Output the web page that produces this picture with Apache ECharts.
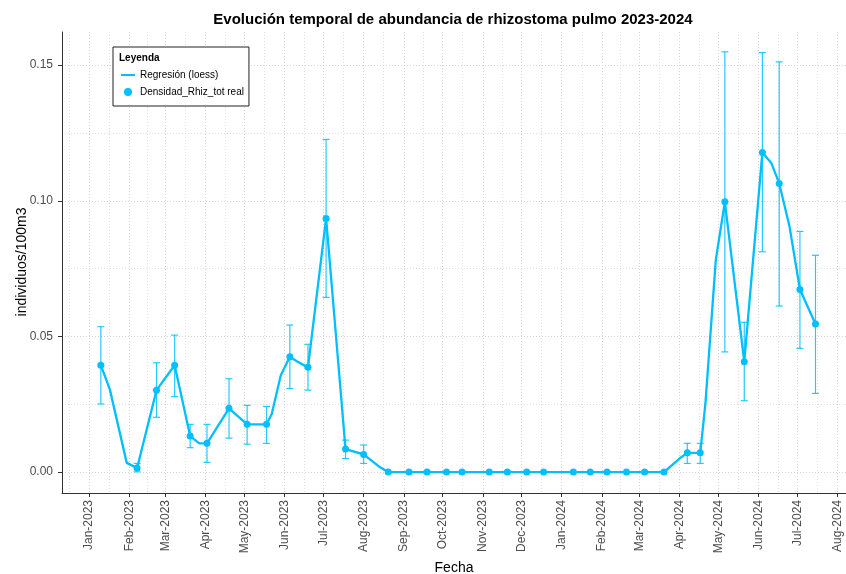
<!DOCTYPE html>
<html>
<head>
<meta charset="utf-8">
<title>Evolución temporal de abundancia de rhizostoma pulmo 2023-2024</title>
<script src="https://cdn.jsdelivr.net/npm/echarts@6/dist/echarts.min.js"></script>
<style>
  html, body { margin: 0; padding: 0; background: #ffffff; }
  #chart { width: 846px; height: 574px; }
</style>
</head>
<body>
<div id="chart"></div>
<script>
// Sampling dates and measured density (individuos/100m3)
const sampleDates = [
  '2023-01-10', '2023-02-07', '2023-02-22', '2023-03-08', '2023-03-20', '2023-04-02',
  '2023-04-19', '2023-05-03', '2023-05-18', '2023-06-05', '2023-06-19', '2023-07-03',
  '2023-07-18', '2023-08-01', '2023-08-20', '2023-09-05', '2023-09-19', '2023-10-04',
  '2023-10-16', '2023-11-06', '2023-11-20', '2023-12-05', '2023-12-18', '2024-01-10',
  '2024-01-23', '2024-02-05', '2024-02-20', '2024-03-05', '2024-03-20', '2024-04-07',
  '2024-04-17', '2024-05-06', '2024-05-21', '2024-06-04', '2024-06-17', '2024-07-03',
  '2024-07-15'
];
const densidad = [
  0.0394, 0.0015, 0.0302, 0.0394, 0.0133, 0.0106,
  0.0235, 0.0176, 0.0176, 0.0425, 0.0386, 0.0935,
  0.0085, 0.0065, 0, 0, 0, 0,
  0, 0, 0, 0, 0, 0,
  0, 0, 0, 0, 0, 0.0071,
  0.0071, 0.0996, 0.0407, 0.1178, 0.1064, 0.0673,
  0.0546
];
// Error bar limits (null where no spread was recorded)
const errLow = [
  0.0251, 0.0001, 0.0202, 0.0278, 0.0090, 0.0036,
  0.0125, 0.0103, 0.0106, 0.0308, 0.0302, 0.0644,
  0.0050, 0.0032, null, null, null, null,
  null, null, null, null, null, null,
  null, null, null, null, null, 0.0032,
  0.0032, 0.0443, 0.0263, 0.0812, 0.0612, 0.0456,
  0.0290
];
const errHigh = [
  0.0536, 0.0032, 0.0403, 0.0505, 0.0176, 0.0176,
  0.0344, 0.0246, 0.0242, 0.0542, 0.0471, 0.1226,
  0.0118, 0.0100, null, null, null, null,
  null, null, null, null, null, null,
  null, null, null, null, null, 0.0106,
  0.0106, 0.1549, 0.0552, 0.1546, 0.1512, 0.0887,
  0.0799
];

// Fitted loess curve
const loessDates = [
  '2023-01-10', '2023-01-17', '2023-01-30', '2023-02-07', '2023-02-22', '2023-03-08',
  '2023-03-20', '2023-03-27', '2023-04-02', '2023-04-19', '2023-05-03', '2023-05-18',
  '2023-05-22', '2023-05-29', '2023-06-05', '2023-06-11', '2023-06-19', '2023-07-03',
  '2023-07-18', '2023-08-01', '2023-08-13', '2023-08-20', '2023-09-05', '2023-09-19',
  '2023-10-04', '2023-10-16', '2023-11-06', '2023-11-20', '2023-12-05', '2023-12-18',
  '2024-01-10', '2024-01-23', '2024-02-05', '2024-02-20', '2024-03-05', '2024-03-20',
  '2024-04-01', '2024-04-07', '2024-04-17', '2024-04-21', '2024-04-29', '2024-05-06',
  '2024-05-21', '2024-06-04', '2024-06-11', '2024-06-17', '2024-06-25', '2024-07-03',
  '2024-07-15'
];
const loessValues = [
  0.0394, 0.0304, 0.0034, 0.0015, 0.0302, 0.0394,
  0.0133, 0.0106, 0.0106, 0.0235, 0.0176, 0.0176,
  0.0214, 0.0357, 0.0425, 0.0407, 0.0386, 0.0935,
  0.0085, 0.0065, 0.0020, 0, 0, 0,
  0, 0, 0, 0, 0, 0,
  0, 0, 0, 0, 0, 0,
  0.0050, 0.0071, 0.0071, 0.0253, 0.0781, 0.0996,
  0.0407, 0.1178, 0.1138, 0.1064, 0.0904, 0.0673,
  0.0546
];

// Axis breaks
const monthBreaks = [
  '2023-01-01', '2023-02-01', '2023-03-01', '2023-04-01', '2023-05-01', '2023-06-01',
  '2023-07-01', '2023-08-01', '2023-09-01', '2023-10-01', '2023-11-01', '2023-12-01',
  '2024-01-01', '2024-02-01', '2024-03-01', '2024-04-01', '2024-05-01', '2024-06-01',
  '2024-07-01', '2024-08-01'
];
const monthLabels = [
  'Jan-2023', 'Feb-2023', 'Mar-2023', 'Apr-2023', 'May-2023', 'Jun-2023',
  'Jul-2023', 'Aug-2023', 'Sep-2023', 'Oct-2023', 'Nov-2023', 'Dec-2023',
  'Jan-2024', 'Feb-2024', 'Mar-2024', 'Apr-2024', 'May-2024', 'Jun-2024',
  'Jul-2024', 'Aug-2024'
];
const yBreaks = [0, 0.05, 0.10, 0.15];
const yMinorBreaks = [0.025, 0.075, 0.125];

// dates are handled as millisecond timestamps on a linear axis
function ts(s) {
  const p = s.split('-').map(Number);
  return Date.UTC(p[0], p[1] - 1, p[2]);
}

const xMin = ts('2022-12-11');
const xMax = ts('2024-08-07') + 14 * 3600000;
const yMin = -0.0077;
const yMax = 0.1622;

const majorX = monthBreaks.map(ts);
const labelByTime = {};
majorX.forEach(function (t, i) { labelByTime[t] = monthLabels[i]; });
// minor vertical grid lines halfway between month breaks
const extended = [ts('2022-12-01')].concat(majorX, [ts('2024-09-01')]);
const minorX = [];
for (let i = 0; i < extended.length - 1; i++) {
  const m = (extended[i] + extended[i + 1]) / 2;
  if (m > xMin && m < xMax) minorX.push(m);
}

const COLOR = '#00BFFF';
const FONT = 'Liberation Sans, Arial, Helvetica, sans-serif';

const pointData = sampleDates.map(function (d, i) { return [ts(d), densidad[i]]; });
const loessData = loessDates.map(function (d, i) { return [ts(d), loessValues[i]]; });
const errData = [];
sampleDates.forEach(function (d, i) {
  if (errLow[i] !== null && errHigh[i] !== null) errData.push([ts(d), errLow[i], errHigh[i]]);
});

const gridLine = { show: true, lineStyle: { color: '#d4d4d4', type: [1, 2], width: 1 } };
const minorGridLine = { show: true, lineStyle: { color: '#e0e0e0', type: [1, 2], width: 1 } };

const chart = echarts.init(document.getElementById('chart'), null, { renderer: 'canvas' });
chart.setOption({
  animation: false,
  backgroundColor: '#ffffff',
  title: {
    text: 'Evolución temporal de abundancia de rhizostoma pulmo 2023-2024',
    left: 448,
    textAlign: 'center',
    top: 7,
    textStyle: { fontFamily: FONT, fontSize: 15, fontWeight: 'bold', color: '#000000' }
  },
  grid: { left: 62, right: 0, top: 32, bottom: 81, containLabel: false, outerBoundsMode: 'none' },
  legend: {
    orient: 'vertical',
    left: 113,
    top: 47,
    padding: [23, 5, 9, 8],
    itemGap: 7,
    itemWidth: 14,
    itemHeight: 8,
    borderColor: '#222222',
    borderWidth: 1,
    backgroundColor: '#ffffff',
    textStyle: { fontFamily: FONT, fontSize: 10, color: '#000000' },
    data: [
      { name: 'Regresión (loess)', icon: 'path://M0,0L14,0L14,2L0,2Z', itemStyle: { color: COLOR } },
      { name: 'Densidad_Rhiz_tot real', icon: 'circle', itemStyle: { color: COLOR } }
    ]
  },
  graphic: [{
    type: 'text',
    left: 119,
    top: 53,
    z: 100,
    style: { text: 'Leyenda', fontFamily: FONT, fontSize: 10, fontWeight: 'bold', fill: '#000000' }
  }, {
    // y axis title, centred on the plot panel
    type: 'text',
    x: 22,
    y: 262,
    rotation: Math.PI / 2,
    z: 100,
    style: {
      text: 'individuos/100m3',
      fontFamily: FONT,
      fontSize: 14,
      fill: '#000000',
      align: 'center',
      verticalAlign: 'middle'
    }
  }],
  xAxis: [{
    type: 'value',
    min: xMin,
    max: xMax,
    name: 'Fecha',
    nameLocation: 'middle',
    nameGap: 64,
    nameTextStyle: { fontFamily: FONT, fontSize: 14, color: '#000000' },
    axisLine: { show: true, onZero: false, lineStyle: { color: '#333333', width: 1 } },
    axisTick: { show: true, length: 4, lineStyle: { color: '#333333' }, customValues: majorX },
    axisLabel: {
      show: true,
      rotate: 90,
      margin: 7,
      fontFamily: FONT,
      fontSize: 12,
      color: '#4d4d4d',
      customValues: majorX,
      formatter: function (v) { return labelByTime[v] || ''; }
    },
    splitLine: gridLine
  }, {
    type: 'value',
    min: xMin,
    max: xMax,
    position: 'bottom',
    axisLine: { show: false },
    axisTick: { show: false, customValues: minorX },
    axisLabel: { show: false, customValues: minorX },
    splitLine: minorGridLine
  }],
  yAxis: [{
    type: 'value',
    min: yMin,
    max: yMax,
    axisLine: { show: true, onZero: false, lineStyle: { color: '#333333', width: 1 } },
    axisTick: { show: true, length: 4, lineStyle: { color: '#333333' }, customValues: yBreaks },
    axisLabel: {
      show: true,
      margin: 9,
      fontFamily: FONT,
      fontSize: 12,
      color: '#4d4d4d',
      customValues: yBreaks,
      formatter: function (v) { return v.toFixed(2); }
    },
    splitLine: gridLine
  }, {
    type: 'value',
    min: yMin,
    max: yMax,
    position: 'left',
    axisLine: { show: false },
    axisTick: { show: false, customValues: yMinorBreaks },
    axisLabel: { show: false, customValues: yMinorBreaks },
    splitLine: minorGridLine
  }],
  series: [{
    name: 'errorbars',
    type: 'custom',
    xAxisIndex: 0,
    yAxisIndex: 0,
    z: 2,
    data: errData,
    encode: { x: 0, y: [1, 2] },
    renderItem: function (params, api) {
      const x = api.value(0);
      const lo = api.coord([x, api.value(1)]);
      const hi = api.coord([x, api.value(2)]);
      const w = 3.5;
      const style = { stroke: COLOR, lineWidth: 1.2, opacity: 0.85 };
      return {
        type: 'group',
        children: [
          { type: 'line', shape: { x1: lo[0], y1: hi[1], x2: lo[0], y2: lo[1] }, style: style },
          { type: 'line', shape: { x1: hi[0] - w, y1: hi[1], x2: hi[0] + w, y2: hi[1] }, style: style },
          { type: 'line', shape: { x1: lo[0] - w, y1: lo[1], x2: lo[0] + w, y2: lo[1] }, style: style }
        ]
      };
    }
  }, {
    name: 'Regresión (loess)',
    type: 'line',
    xAxisIndex: 0,
    yAxisIndex: 0,
    z: 3,
    data: loessData,
    showSymbol: false,
    symbol: 'none',
    smooth: false,
    lineStyle: { color: COLOR, width: 2.3 },
    itemStyle: { color: COLOR }
  }, {
    name: 'Densidad_Rhiz_tot real',
    type: 'scatter',
    xAxisIndex: 0,
    yAxisIndex: 0,
    z: 4,
    data: pointData,
    symbol: 'circle',
    symbolSize: 7,
    itemStyle: { color: COLOR, opacity: 1 }
  }]
});
</script>
</body>
</html>
